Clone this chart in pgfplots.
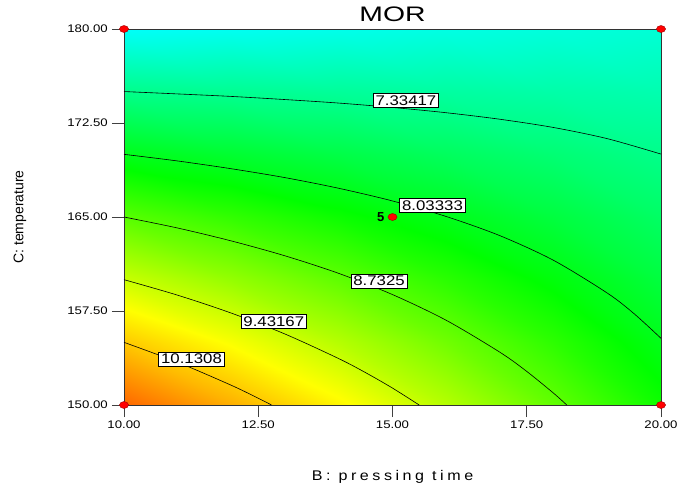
\documentclass[border=0pt]{standalone}
\usepackage{fontspec}
\setmainfont{Liberation Sans}
\newfontfamily\spacedsans[LetterSpace=22]{Liberation Sans}
\usepackage{pgfplots}
\usepackage{pgfplotstable}
\pgfplotsset{compat=1.18}

% MOR response over pressing time (x) and temperature (y)
\pgfplotstableread{
x  y     z
10 150 10.830
12 150 10.321
14 150  9.812
16 150  9.304
18 150  8.795
20 150  8.286
10 155 10.131
12 155  9.714
14 155  9.298
16 155  8.881
18 155  8.465
20 155  8.048
10 160  9.432
12 160  9.108
14 160  8.783
16 160  8.459
18 160  8.135
20 160  7.811
10 165  8.733
12 165  8.501
14 165  8.269
16 165  8.037
18 165  7.805
20 165  7.573
10 170  8.034
12 170  7.894
14 170  7.755
16 170  7.615
18 170  7.475
20 170  7.335
10 175  7.335
12 175  7.288
14 175  7.240
16 175  7.193
18 175  7.145
20 175  7.098
10 180  6.636
12 180  6.681
14 180  6.726
16 180  6.770
18 180  6.815
20 180  6.860
}\morgrid

\pgfplotsset{colormap={designexpert}{
  rgb255(4.95cm)=(0,0,255) rgb255(6.6cm)=(0,255,255) rgb255(8.2cm)=(0,255,0)
  rgb255(9.75cm)=(255,255,0) rgb255(11.55cm)=(255,0,0)}}

\begin{document}
\begin{tikzpicture}
\begin{axis}[
  at={(0,0)}, anchor=south west,
  scale only axis, width=537pt, height=376pt,
  xmin=10, xmax=20, ymin=150, ymax=180,
  xtick={10,12.5,15,17.5,20},
  ytick={150,157.5,165,172.5,180},
  tick align=outside, xtick pos=bottom, ytick pos=left,
  major tick length=12pt,
  tick style={black!75, line width=0.7pt},
  ticklabel style={font=\fontsize{11}{13}\selectfont, xscale=1.2},
  /pgf/number format/.cd, fixed, fixed zerofill, precision=2, assume math mode=true,
  /pgfplots/.cd,
  colormap name=designexpert, point meta min=4.95, point meta max=11.55,
  clip=false,
  axis line style={black!80, line width=0.8pt},
  title={MOR},
  title style={font=\fontsize{21}{25}\selectfont, xscale=1.35, yshift=-6pt,
    at={(axis description cs:0.5,1.0386)}, anchor=center},
  xlabel={B: pressing time},
  xlabel style={font=\spacedsans\fontsize{14}{16}\selectfont, xscale=1.15,
    at={(axis description cs:0.5,-0.1915)}, anchor=center},
  ylabel={C: temperature},
  ylabel style={font=\fontsize{14}{16}\selectfont,
    at={(axis description cs:-0.1937,0.5)}, anchor=center},
]
% colour surface
\addplot[surf, shader=interp, mesh/cols=6, point meta=\thisrow{z}]
  table[x=x, y=y] {\morgrid};

\draw[black!80, line width=0.8pt] (rel axis cs:0,0) rectangle (rel axis cs:1,1);

% contour lines
\addplot[black, line width=0.6pt, smooth, mark=none] coordinates {
 (10,175.01)(11,174.82)(12,174.62)(13,174.37)(14,174.09)(15,173.74)
 (16,173.32)(17,172.80)(18,172.14)(19,171.25)(20,170.02)};
\addplot[black, line width=0.6pt, smooth, mark=none] coordinates {
 (10,170.00)(11,169.47)(12,168.85)(13,168.14)(14,167.29)(15,166.28)
 (16,165.04)(17,163.51)(18,161.54)(19,158.93)(19.5,157.28)(20,155.32)};
\addplot[black, line width=0.6pt, smooth, mark=none] coordinates {
 (10,165.00)(11,164.12)(12,163.09)(13,161.90)(14,160.50)(15,158.81)
 (16,156.76)(17,154.21)(17.5,152.68)(18,150.94)(18.245,150)};
\addplot[black, line width=0.6pt, smooth, mark=none] coordinates {
 (10,160.00)(11,158.76)(12,157.33)(13,155.66)(14,153.70)(14.5,152.58)
 (15,151.35)(15.497,150)};
\addplot[black, line width=0.6pt, smooth, mark=none] coordinates {
 (10,155.00)(11,153.41)(12,151.57)(12.5,150.54)(12.748,150)};

% contour level labels
\addplot[draw=none, mark=none, nodes near coords, point meta=explicit symbolic,
  nodes near coords align={anchor=center},
  every node near coord/.append style={anchor=center, fill=white, draw=black,
    line width=0.5pt, font=\fontsize{14}{16}\selectfont, xscale=1.2,
    inner xsep=2pt, inner ysep=2pt}]
  coordinates {
  (15.25,174.30)[7.33417]
  (15.745,165.92)[8.03333]
  (14.75,159.90)[8.7325]
  (12.79,156.66)[9.43167]
  (11.257,153.67)[10.1308]};

% design points
\addplot[only marks, mark=*, mark size=3.5pt,
  mark options={xscale=1.3, fill=red, draw=red!60!black, line width=0.4pt}]
  coordinates {(10,150)(10,180)(20,150)(20,180)(15,165)};
\addplot[draw=none, mark=none, nodes near coords, point meta=explicit symbolic,
  nodes near coords align={anchor=east},
  every node near coord/.append style={anchor=east, inner sep=0pt, xshift=-8pt,
    font=\bfseries\fontsize{13}{15}\selectfont}]
  coordinates {(15,165)[5]};
\end{axis}
\pgfresetboundingbox
\path[use as bounding box] (-124pt,-83pt) rectangle (555pt,405pt);
\end{tikzpicture}
\end{document}
